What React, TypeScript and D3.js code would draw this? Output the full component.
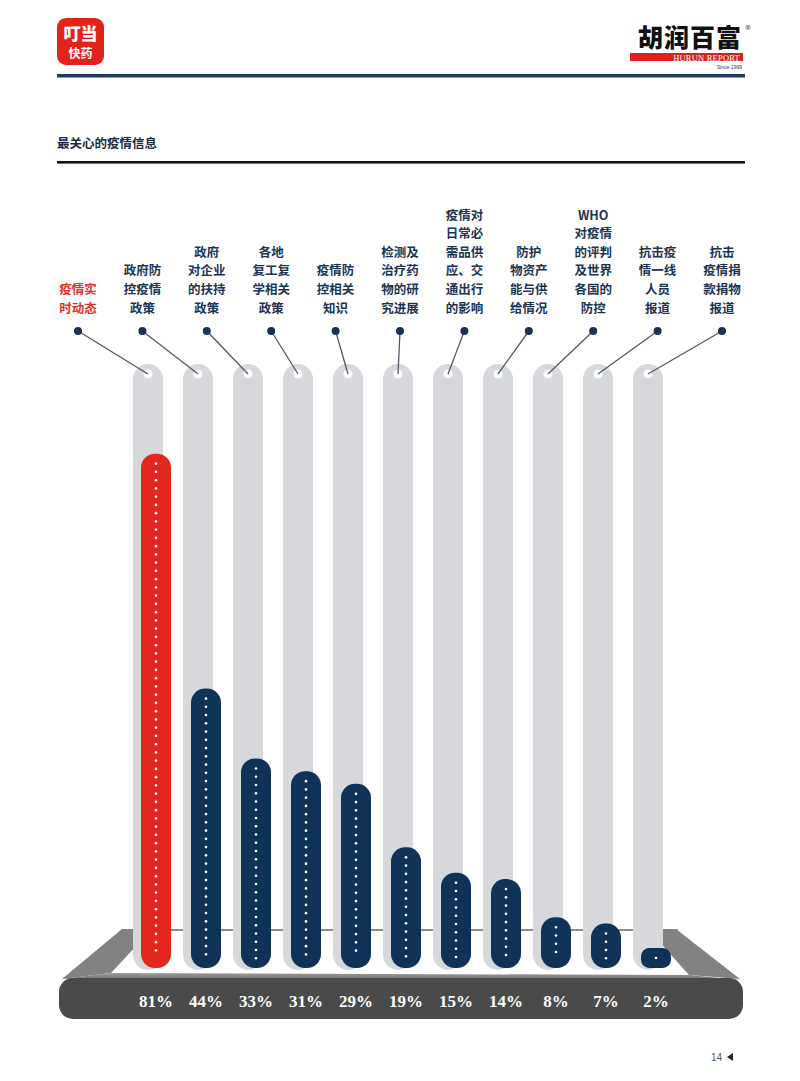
import React, { useEffect } from 'react';
import * as d3 from 'd3';

// categories (label lines split by "|")
const categories = [
  '疫情实|时动态',
  '政府防|控疫情|政策',
  '政府|对企业|的扶持|政策',
  '各地|复工复|学相关|政策',
  '疫情防|控相关|知识',
  '检测及|治疗药|物的研|究进展',
  '疫情对|日常必|需品供|应、交|通出行|的影响',
  '防护|物资产|能与供|给情况',
  'WHO|对疫情|的评判|及世界|各国的|防控',
  '抗击疫|情一线|人员|报道',
  '抗击|疫情捐|款捐物|报道',
];
const values = [81, 44, 33, 31, 29, 19, 15, 14, 8, 7, 2];
const valueLabels = ['81%', '44%', '33%', '31%', '29%', '19%', '15%', '14%', '8%', '7%', '2%'];

const RED = '#e3271f';
const NAVY = '#0f3358';
const TRACK = '#d6d8dc';

const W = 800;
const H = 1081;
const BASE = 968;

const App: React.FC = () => {
  useEffect(() => {
    document.body.style.margin = '0';
  }, []);

  const ids = categories.map((_, i) => String(i));
  const xTrack = d3.scalePoint<string>().domain(ids).range([148, 648]);
  const xLabel = d3.scalePoint<string>().domain(ids).range([78, 722]);
  const y = d3.scaleLinear().domain([0, 100]).range([BASE, BASE - 635]);

  const trackTop = 364;
  const trackW = 30;
  const barOffset = 8;
  const barW = 30;
  const holeY = 374;
  const dotY = 331;
  const lineH = 18.6;
  const cjk = '"Noto Sans CJK SC", "Noto Sans", sans-serif';

  return (
    <svg width={W} height={H} viewBox={`0 0 ${W} ${H}`} style={{ position: 'absolute', left: 0, top: 0, background: '#fff' }}>
      <defs>
        <linearGradient id="rim" x1="0" y1="0" x2="0" y2="1">
          <stop offset="0" stopColor="#9a9a9a" />
          <stop offset="1" stopColor="#6e6e6e" />
        </linearGradient>
      </defs>

      {/* header left logo */}
      <rect x={57} y={18} width={47} height={47} rx={9} fill="#e2231a" />
      <text x={80.5} y={40} textAnchor="middle" fill="#fff" fontFamily={cjk} fontWeight={900} fontSize={17}>叮当</text>
      <text x={80.5} y={58} textAnchor="middle" fill="#fff" fontFamily={cjk} fontWeight={700} fontSize={12}>快药</text>

      {/* header right logo */}
      <text x={742} y={47} textAnchor="end" fill="#111" fontFamily={cjk} fontWeight={900} fontSize={25} letterSpacing={1}>胡润百富</text>
      <text x={748} y={30} textAnchor="middle" fill="#333" fontFamily="DejaVu Sans" fontSize={7}>®</text>
      <rect x={630} y={53} width={113} height={8} fill="#d9231c" />
      <text x={740} y={60.5} textAnchor="end" fill="#fff" fontFamily="Liberation Serif" fontSize={8.5} letterSpacing={0.2}>HURUN REPORT</text>
      <text x={742} y={68.5} textAnchor="end" fill="#333" fontFamily="Liberation Sans" fontSize={5}>Since 1999</text>

      <rect x={57} y={74} width={688} height={3.5} fill="#1f3a5c" />

      {/* title */}
      <text x={57} y={148} fill="#1a2b40" fontFamily={cjk} fontWeight={700} fontSize={12.5}>最关心的疫情信息</text>
      <rect x={57} y={161} width={688} height={2.6} fill="#111" />

      {/* tray back */}
      <rect x={122} y={929} width={556} height={2} fill="#8d8d8d" />
      <polygon points="122,929 152,929 111,973 62,979" fill="#828282" />
      <polygon points="648,929 676,929 740,979 689,975" fill="#828282" />
      <polygon points="111,973 689,975 740,980 62,979" fill="url(#rim)" />

      {/* tracks */}
      {ids.map((id) => {
        const cx = xTrack(id)!;
        return (
          <g key={`t${id}`}>
            <rect x={cx - trackW / 2} y={trackTop} width={trackW} height={BASE + 2 - trackTop} rx={15} fill={TRACK} />
            <circle cx={cx} cy={holeY} r={4.5} fill="#fff" />
          </g>
        );
      })}

      {/* bars */}
      {values.map((v, i) => {
        const id = String(i);
        const cx = xTrack(id)! + barOffset;
        const top = Math.min(y(v), BASE - 20);
        const h = BASE - top;
        const rx = Math.min(14, h / 2.4);
        const dots = d3.range(top + 10, BASE - 9.5, 8.25);
        return (
          <g key={`b${id}`}>
            <rect x={cx - barW / 2} y={top} width={barW} height={h} rx={rx} fill={i === 0 ? RED : NAVY} />
            {dots.map((dy, k) => (
              <circle key={k} cx={cx} cy={dy} r={1.3} fill="#fff" />
            ))}
          </g>
        );
      })}

      {/* connectors and labels */}
      {categories.map((c, i) => {
        const id = String(i);
        const lx = xLabel(id)!;
        const tx = xTrack(id)!;
        const lines = c.split('|');
        const color = i === 0 ? '#e0302a' : '#1c3452';
        return (
          <g key={`l${id}`}>
            <line x1={lx} y1={dotY} x2={tx} y2={holeY} stroke="#505a66" strokeWidth={1.3} />
            <circle cx={lx} cy={dotY} r={4} fill="#1b3250" />
            {lines.map((ln, k) => (
              <text
                key={k}
                x={lx}
                y={308 - (lines.length - 1 - k) * lineH}
                dy="0.36em"
                textAnchor="middle"
                fill={color}
                fontFamily={cjk}
                fontWeight={700}
                fontSize={12.5}
              >
                {ln}
              </text>
            ))}
          </g>
        );
      })}

      {/* tray front slab */}
      <rect x={59} y={978} width={684} height={41} rx={14} fill="#4a4a4a" />

      {valueLabels.map((t, i) => (
        <text
          key={`v${i}`}
          x={xTrack(String(i))! + barOffset}
          y={1007}
          textAnchor="middle"
          fill="#fff"
          fontFamily="Liberation Serif, serif"
          fontWeight={700}
          fontSize={17}
        >
          {t}
        </text>
      ))}

      {/* page number */}
      <text x={722} y={1061} textAnchor="end" fill="#555" fontFamily="Liberation Sans" fontSize={10}>14</text>
      <polygon points="733,1053 733,1061 727,1057" fill="#222" />
    </svg>
  );
};

export default App;
